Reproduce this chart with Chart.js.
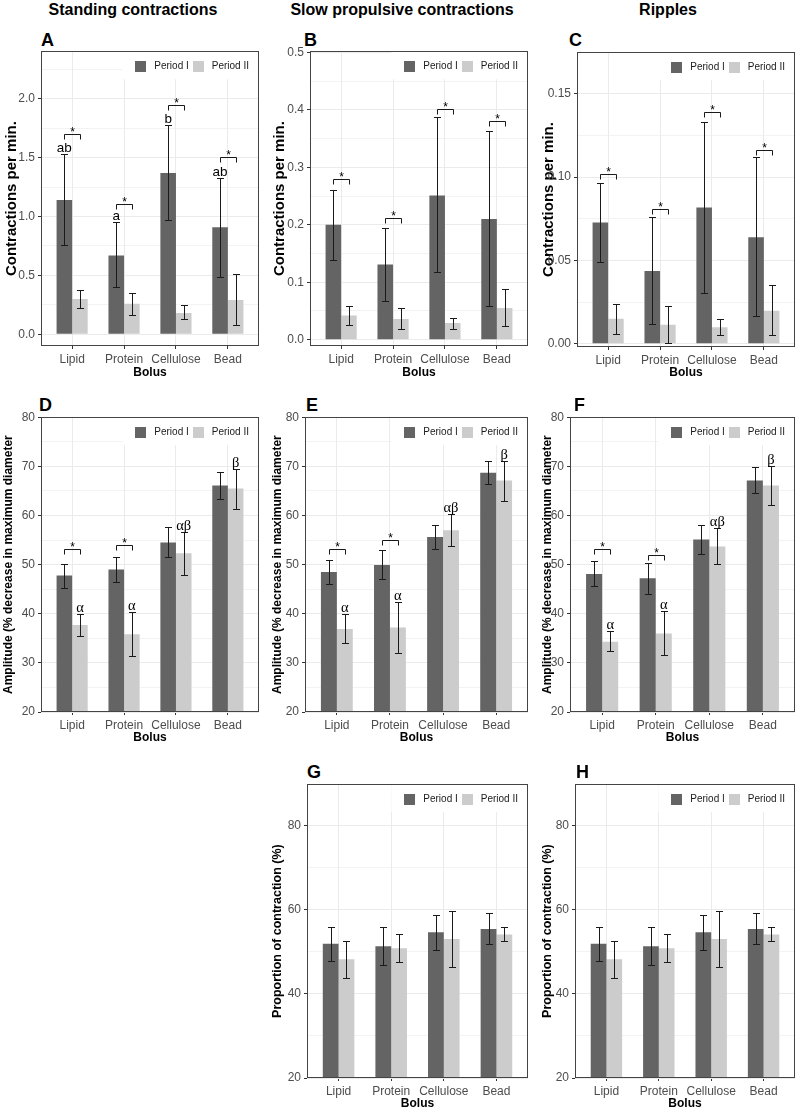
<!DOCTYPE html>
<html>
<head>
<meta charset="utf-8">
<script src="https://cdn.jsdelivr.net/npm/chart.js@4.4.0/dist/chart.umd.min.js"></script>
<style>
  body { margin: 0; background: #fff; width: 800px; height: 1112px; position: relative; overflow: hidden; font-family: "Liberation Sans", Arial, sans-serif; }
  .coltitle { position: absolute; font-weight: bold; font-size: 16px; line-height: 1; white-space: nowrap; transform: translateX(-50%); }
  .letter { position: absolute; font-weight: bold; font-size: 18px; line-height: 1; }
</style>
</head>
<body>
<div class="coltitle" style="left:133px; top:2px;">Standing contractions</div>
<div class="coltitle" style="left:402px; top:2px;">Slow propulsive contractions</div>
<div class="coltitle" style="left:668px; top:2px;">Ripples</div>

<script>
// categories and series
const categories = ['Lipid', 'Protein', 'Cellulose', 'Bead'];
const seriesLabels = ['Period I', 'Period II'];

// A - standing contractions, contractions per min
const aP1 = [1.14, 0.67, 1.37, 0.91];
const aP1Low = [0.76, 0.40, 0.97, 0.49];
const aP1High = [1.53, 0.95, 1.78, 1.33];
const aP2 = [0.30, 0.26, 0.18, 0.29];
const aP2Low = [0.22, 0.16, 0.13, 0.08];
const aP2High = [0.38, 0.35, 0.245, 0.51];
const aLetters = ['ab', 'a', 'b', 'ab'];
const aSigY = [1.70, 1.105, 1.95, 1.51];
const aTicks = [0, 0.5, 1, 1.5, 2];
const aTickLabels = ['0.0', '0.5', '1.0', '1.5', '2.0'];
const aRange = [-0.1, 2.405];

// B - slow propulsive contractions
const bP1 = [0.20, 0.131, 0.251, 0.21];
const bP1Low = [0.139, 0.067, 0.117, 0.059];
const bP1High = [0.261, 0.194, 0.387, 0.363];
const bP2 = [0.042, 0.036, 0.029, 0.055];
const bP2Low = [0.025, 0.018, 0.019, 0.023];
const bP2High = [0.059, 0.055, 0.038, 0.088];
const bSigY = [0.28, 0.211, 0.401, 0.381];
const bTicks = [0, 0.1, 0.2, 0.3, 0.4, 0.5];
const bTickLabels = ['0.0', '0.1', '0.2', '0.3', '0.4', '0.5'];
const bRange = [-0.011, 0.502];

// C - ripples
const cP1 = [0.0727, 0.0437, 0.0818, 0.0639];
const cP1Low = [0.0489, 0.0119, 0.0307, 0.0165];
const cP1High = [0.0963, 0.0760, 0.133, 0.112];
const cP2 = [0.0149, 0.0113, 0.0099, 0.0198];
const cP2Low = [0.006, 0.0005, 0.0054, 0.0054];
const cP2High = [0.0238, 0.0228, 0.0149, 0.0351];
const cSigY = [0.1017, 0.081, 0.139, 0.1162];
const cTicks = [0, 0.05, 0.1, 0.15];
const cTickLabels = ['0.00', '0.05', '0.10', '0.15'];
const cRange = [-0.002, 0.175];

// D-F - amplitude
const ampTicks = [20, 30, 40, 50, 60, 70, 80];
const ampTickLabels = ['20', '30', '40', '50', '60', '70', '80'];
const ampRange = [20, 80];
const ampLetters = ['\u03b1', '\u03b1', '\u03b1\u03b2', '\u03b2'];

const dP1 = [47.8, 49.0, 54.5, 66.1];
const dP1Low = [45.2, 46.5, 51.6, 63.4];
const dP1High = [50.2, 51.6, 57.6, 68.9];
const dP2 = [37.7, 35.8, 52.3, 65.5];
const dP2Low = [35.4, 31.3, 47.8, 61.4];
const dP2High = [39.9, 40.3, 56.6, 69.4];
const dSigY = [53.2, 53.9, null, null];

const eP1 = [48.5, 49.9, 55.6, 68.7];
const eP1Low = [46.0, 47.0, 53.2, 66.5];
const eP1High = [51.0, 52.9, 58.1, 71.1];
const eP2 = [36.9, 37.2, 57.0, 67.1];
const eP2Low = [34.1, 32.1, 53.7, 63.0];
const eP2High = [39.9, 42.4, 60.3, 71.1];
const eSigY = [53.2, 55.0, null, null];

const fP1 = [48.1, 47.2, 55.1, 67.1];
const fP1Low = [45.6, 44.1, 52.1, 64.5];
const fP1High = [50.7, 50.4, 58.0, 69.9];
const fP2 = [34.3, 36.0, 53.7, 66.1];
const fP2Low = [32.5, 31.5, 50.2, 62.2];
const fP2High = [36.4, 40.5, 57.4, 70.1];
const fSigY = [53.2, 52.0, null, null];

// G/H - proportion of contraction (both panels show the same values)
const gP1 = [51.9, 51.3, 54.6, 55.4];
const gP1Low = [47.9, 46.8, 50.4, 51.8];
const gP1High = [55.9, 55.9, 58.8, 59.2];
const gP2 = [48.2, 50.8, 53.0, 54.1];
const gP2Low = [43.8, 47.6, 46.4, 52.5];
const gP2High = [52.5, 54.2, 59.6, 55.8];
const propTicks = [20, 40, 60, 80];
const propTickLabels = ['20', '40', '60', '80'];
const propRange = [20, 89.8];

const family = '"Liberation Sans", Arial, sans-serif';
Chart.defaults.font.family = family;

const titleContr = 'Contractions per min.';
const titleAmp = 'Amplitude (% decrease in maximum diameter';
const titleProp = 'Proportion of contraction (%)';

const panelData = {
  A: { p1: aP1, p1Low: aP1Low, p1High: aP1High, p2: aP2, p2Low: aP2Low, p2High: aP2High,
       ticks: aTicks, tickLabels: aTickLabels, range: aRange, yTitle: titleContr,
       letters: aLetters, letterSeries: 0, sigY: aSigY },
  B: { p1: bP1, p1Low: bP1Low, p1High: bP1High, p2: bP2, p2Low: bP2Low, p2High: bP2High,
       ticks: bTicks, tickLabels: bTickLabels, range: bRange, yTitle: titleContr, sigY: bSigY },
  C: { p1: cP1, p1Low: cP1Low, p1High: cP1High, p2: cP2, p2Low: cP2Low, p2High: cP2High,
       ticks: cTicks, tickLabels: cTickLabels, range: cRange, yTitle: titleContr, sigY: cSigY },
  D: { p1: dP1, p1Low: dP1Low, p1High: dP1High, p2: dP2, p2Low: dP2Low, p2High: dP2High,
       ticks: ampTicks, tickLabels: ampTickLabels, range: ampRange, yTitle: titleAmp,
       letters: ampLetters, letterSeries: 1, sigY: dSigY },
  E: { p1: eP1, p1Low: eP1Low, p1High: eP1High, p2: eP2, p2Low: eP2Low, p2High: eP2High,
       ticks: ampTicks, tickLabels: ampTickLabels, range: ampRange, yTitle: titleAmp,
       letters: ampLetters, letterSeries: 1, sigY: eSigY },
  F: { p1: fP1, p1Low: fP1Low, p1High: fP1High, p2: fP2, p2Low: fP2Low, p2High: fP2High,
       ticks: ampTicks, tickLabels: ampTickLabels, range: ampRange, yTitle: titleAmp,
       letters: ampLetters, letterSeries: 1, sigY: fSigY },
  G: { p1: gP1, p1Low: gP1Low, p1High: gP1High, p2: gP2, p2Low: gP2Low, p2High: gP2High,
       ticks: propTicks, tickLabels: propTickLabels, range: propRange, yTitle: titleProp },
  H: { p1: gP1, p1Low: gP1Low, p1High: gP1High, p2: gP2, p2Low: gP2Low, p2High: gP2High,
       ticks: propTicks, tickLabels: propTickLabels, range: propRange, yTitle: titleProp }
};

// page layout: plot box [left, top, right, bottom], axis title positions and size, panel letter
const layout = [
  { key: 'A', col: 0,   box: [41, 49, 259, 346],   yTitleX: 12,  yTitleSize: 15,   xTitleY: 372.5, letter: [41, 40] },
  { key: 'B', col: 265, box: [310, 49, 528, 346],  yTitleX: 280, yTitleSize: 15,   xTitleY: 372.5, letter: [304, 40] },
  { key: 'C', col: 530, box: [577, 50, 795, 347],  yTitleX: 549, yTitleSize: 15,   xTitleY: 372.5, letter: [569, 40] },
  { key: 'D', col: 0,   box: [41, 415, 259, 712],  yTitleX: 9,   yTitleSize: 12,   xTitleY: 738,   letter: [39, 405] },
  { key: 'E', col: 265, box: [305, 415, 528, 712], yTitleX: 278, yTitleSize: 12,   xTitleY: 738,   letter: [306, 405] },
  { key: 'F', col: 530, box: [570, 415, 795, 712], yTitleX: 548, yTitleSize: 12,   xTitleY: 738,   letter: [574, 405] },
  { key: 'G', col: 265, box: [307, 782, 528, 1078], yTitleX: 278, yTitleSize: 12.5, xTitleY: 1104, letter: [307, 772] },
  { key: 'H', col: 530, box: [575, 782, 795, 1078], yTitleX: 548, yTitleSize: 12.5, xTitleY: 1104, letter: [576, 772] }
];

const darkGrey = '#646464';
const lightGrey = '#cccccc';

function buildYTicks(majors, labels, min, max) {
  const step = majors[1] - majors[0];
  const out = majors.map((v, i) => ({ value: v, lab: labels[i] }));
  for (let i = -1; i < majors.length; i++) {
    const m = i < 0 ? majors[0] - step / 2 : majors[i] + step / 2;
    if (m >= min && m <= max) out.push({ value: m, minor: true, lab: '' });
  }
  return out.sort((a, b) => a.value - b.value);
}

function makeExtras(p) {
  return {
    id: 'extras',
    beforeDatasetsDraw(chart) {
      // legend inside the panel, white background over the grid
      const { ctx, chartArea: ca } = chart;
      const dsets = chart.data.datasets;
      ctx.save();
      ctx.font = '10px ' + family;
      const widths = dsets.map(d => ctx.measureText(d.label).width);
      const sq = 11, gap = 8, sp = 4;
      const total = widths.reduce((s, w) => s + sq + gap + w, 0) + sp * (dsets.length - 1);
      let x = ca.right - 10 - total;
      const cy = ca.top + 15;
      ctx.fillStyle = '#ffffff';
      ctx.fillRect(x - 13, ca.top, ca.right - x + 13, cy + 13 - ca.top);
      ctx.textBaseline = 'middle';
      ctx.textAlign = 'left';
      dsets.forEach((d, i) => {
        ctx.fillStyle = d.backgroundColor;
        ctx.fillRect(Math.round(x), Math.round(cy - sq / 2), sq, sq);
        x += sq + gap;
        ctx.fillStyle = '#1a1a1a';
        ctx.fillText(d.label, x, cy);
        x += widths[i] + sp;
      });
      ctx.restore();
    },
    afterDatasetsDraw(chart) {
      const { ctx, chartArea: ca } = chart;
      const y = chart.scales.y;
      ctx.save();
      // error bars
      ctx.strokeStyle = '#1a1a1a';
      ctx.lineWidth = 1;
      [[p.p1Low, p.p1High], [p.p2Low, p.p2High]].forEach(([lo, hi], i) => {
        chart.getDatasetMeta(i).data.forEach((bar, j) => {
          const x = Math.round(bar.x) + 0.5;
          const y1 = Math.round(y.getPixelForValue(lo[j])) + 0.5;
          const y2 = Math.round(y.getPixelForValue(hi[j])) + 0.5;
          ctx.beginPath();
          ctx.moveTo(x, y1); ctx.lineTo(x, y2);
          ctx.moveTo(x - 3.5, y1); ctx.lineTo(x + 3.5, y1);
          ctx.moveTo(x - 3.5, y2); ctx.lineTo(x + 3.5, y2);
          ctx.stroke();
        });
      });
      // group letters
      if (p.letters) {
        const hi = p.letterSeries === 0 ? p.p1High : p.p2High;
        ctx.fillStyle = '#000';
        ctx.font = p.letterSeries === 0 ? '13.5px ' + family : '14.5px "Liberation Serif", "DejaVu Serif", serif';
        ctx.textAlign = 'center';
        ctx.textBaseline = 'alphabetic';
        chart.getDatasetMeta(p.letterSeries).data.forEach((bar, j) => {
          ctx.fillText(p.letters[j], bar.x, y.getPixelForValue(hi[j]) - 2);
        });
      }
      // significance brackets
      if (p.sigY) {
        const m0 = chart.getDatasetMeta(0), m1 = chart.getDatasetMeta(1);
        ctx.strokeStyle = '#000';
        ctx.lineWidth = 0.9;
        ctx.fillStyle = '#000';
        ctx.font = '12px ' + family;
        ctx.textAlign = 'center';
        ctx.textBaseline = 'alphabetic';
        p.sigY.forEach((v, j) => {
          if (v == null) return;
          const x1 = Math.round(m0.data[j].x) + 0.5, x2 = Math.round(m1.data[j].x) + 0.5;
          const yy = Math.round(y.getPixelForValue(v)) + 0.5;
          ctx.beginPath();
          ctx.moveTo(x1, yy + 5); ctx.lineTo(x1, yy); ctx.lineTo(x2, yy); ctx.lineTo(x2, yy + 5);
          ctx.stroke();
          ctx.fillText('*', (x1 + x2) / 2, yy + 1);
        });
      }
      // panel border
      ctx.strokeStyle = '#444444';
      ctx.lineWidth = 1;
      ctx.strokeRect(Math.round(ca.left) + 0.5, Math.round(ca.top) + 0.5,
                     Math.round(ca.right - ca.left) - 1, Math.round(ca.bottom - ca.top) - 1);
      ctx.restore();
    }
  };
}

layout.forEach(L => {
  const p = panelData[L.key];
  const [bl, bt, br, bb] = L.box;
  const halfX = 7.2;                   // half line height of the x title
  const halfY = L.yTitleSize * 0.6;    // half line height of the y title
  const ct = bt - 8;
  const cb = Math.round(L.xTitleY + halfX);
  const cw = br + 4 - L.col;
  const ch = cb - ct;
  const padL = L.yTitleX - L.col - halfY;
  const yW = bl - L.col - padL;
  const xH = cb - bb;

  const letter = document.createElement('div');
  letter.className = 'letter';
  letter.textContent = L.key;
  letter.style.left = L.letter[0] + 'px';
  letter.style.top = (L.letter[1] - 8.8) + 'px';
  document.body.appendChild(letter);

  const canvas = document.createElement('canvas');
  canvas.width = cw;
  canvas.height = ch;
  canvas.style.cssText = `position:absolute;left:${L.col}px;top:${ct}px;width:${cw}px;height:${ch}px;`;
  document.body.appendChild(canvas);

  const yTicks = buildYTicks(p.ticks, p.tickLabels, p.range[0], p.range[1]);
  const toPoints = vals => vals.map((v, i) => ({ x: i + 1, y: v }));

  new Chart(canvas, {
    type: 'bar',
    data: {
      datasets: [
        { label: seriesLabels[0], data: toPoints(p.p1), backgroundColor: darkGrey },
        { label: seriesLabels[1], data: toPoints(p.p2), backgroundColor: lightGrey }
      ]
    },
    options: {
      responsive: false,
      animation: false,
      devicePixelRatio: 1,
      layout: { padding: { left: padL, top: 8, right: 4, bottom: 0 } },
      datasets: { bar: { barPercentage: 1, categoryPercentage: 0.6, borderWidth: 0 } },
      plugins: { legend: { display: false }, tooltip: { enabled: false } },
      scales: {
        x: {
          type: 'linear', min: 0.4, max: 4.6, offset: false,
          afterBuildTicks: ax => { ax.ticks = categories.map((c, i) => ({ value: i + 1 })); },
          afterFit: ax => { ax.height = xH; },
          ticks: {
            callback: v => categories[v - 1] || '',
            autoSkip: false, maxRotation: 0, padding: 3,
            font: { size: 12, family: family }, color: '#4d4d4d'
          },
          grid: { offset: false, color: '#ebebeb', lineWidth: 1, tickLength: 3, tickColor: '#333333' },
          border: { display: false },
          title: { display: true, text: 'Bolus', padding: 0, color: '#000',
                   font: { size: 12, weight: 'bold', family: family, lineHeight: 1.2 } }
        },
        y: {
          type: 'linear', min: p.range[0], max: p.range[1], beginAtZero: false,
          afterBuildTicks: ax => { ax.ticks = yTicks.map(t => Object.assign({}, t)); },
          afterFit: ax => { ax.width = yW; },
          ticks: {
            callback: (v, i, t) => (t[i] && t[i].lab) || '',
            autoSkip: false, padding: 3,
            font: { size: 12, family: family }, color: '#4d4d4d'
          },
          grid: {
            color: '#ebebeb',
            lineWidth: c => (c.tick && c.tick.minor) ? 0.6 : 1,
            tickLength: 3,
            tickColor: c => (c.tick && c.tick.minor) ? 'rgba(0,0,0,0)' : '#333333'
          },
          border: { display: false },
          title: { display: true, text: p.yTitle, padding: 0, color: '#000',
                   font: { size: L.yTitleSize, weight: 'bold', family: family, lineHeight: 1.2 } }
        }
      }
    },
    plugins: [makeExtras(p)]
  });
});
</script>
</body>
</html>
